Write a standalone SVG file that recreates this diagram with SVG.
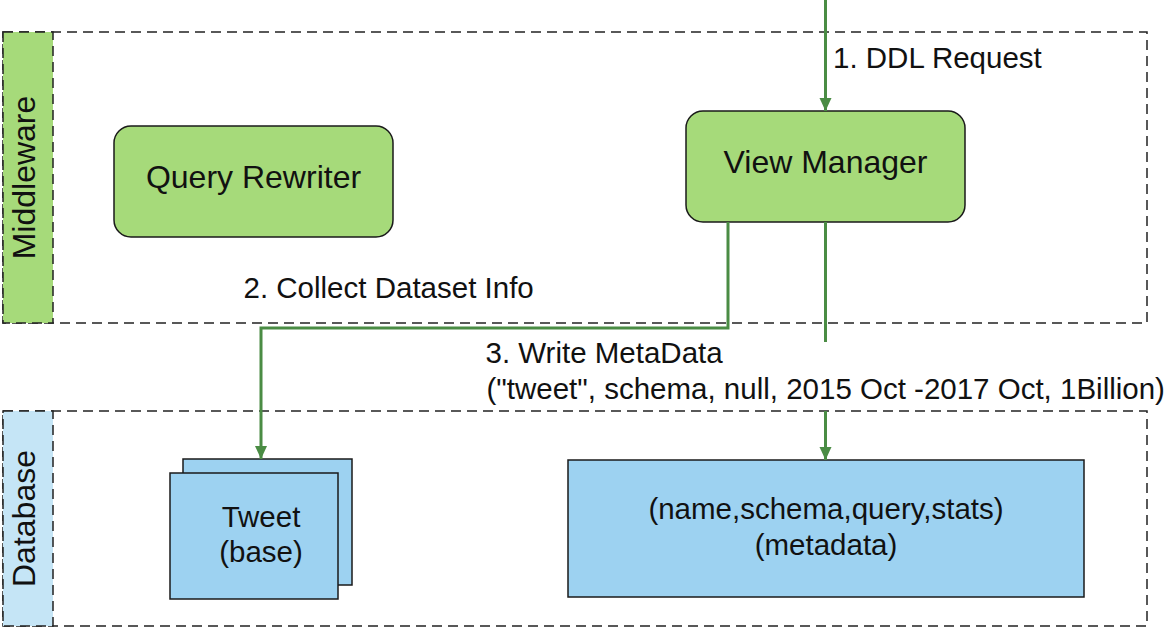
<svg xmlns="http://www.w3.org/2000/svg" width="1167" height="629" viewBox="0 0 1167 629">
  <style>
    .lane { fill: none; stroke: #222222; stroke-width: 1.5; stroke-dasharray: 10 6; }
    .band-mw { fill: #a6da7a; stroke: #222222; stroke-width: 1.5; stroke-dasharray: 10 6; }
    .band-db { fill: #c5e5f6; stroke: #222222; stroke-width: 1.5; stroke-dasharray: 10 6; }
    .proc { fill: #a6da7a; stroke: #1a1a1a; stroke-width: 1.5; }
    .store { fill: #9dd2f1; stroke: #1a1a1a; stroke-width: 1.5; }
    .t { font-family: "Liberation Sans", Arial, sans-serif; fill: #111111; }
    .big { font-size: 32px; }
    .mid { font-size: 29.5px; }
    .flow { fill: none; stroke: #4a8c44; stroke-width: 3; }
  </style>
  <defs>
    <marker id="arrow" viewBox="0 0 13 13" refX="13" refY="6.5" markerWidth="13" markerHeight="13" markerUnits="userSpaceOnUse" orient="auto">
      <path d="M0,0.5 L13,6.5 L0,12.5 Z" fill="#4a8c44"/>
    </marker>
  </defs>

  <!-- Middleware lane -->
  <g id="lane-middleware">
    <rect class="lane" x="3" y="32" width="1144" height="291"/>
    <rect class="band-mw" x="3" y="32" width="50" height="291"/>
    <text class="t big" text-anchor="middle" transform="translate(35,177.5) rotate(-90)">Middleware</text>
  </g>

  <!-- Database lane -->
  <g id="lane-database">
    <rect class="lane" x="3" y="411" width="1144" height="215"/>
    <rect class="band-db" x="3" y="411" width="50" height="215"/>
    <text class="t big" text-anchor="middle" transform="translate(35,518.5) rotate(-90)">Database</text>
  </g>

  <g id="query-rewriter">
    <rect class="proc" x="114" y="126" width="279" height="111" rx="17"/>
    <text class="t big" x="253.5" y="188" text-anchor="middle">Query Rewriter</text>
  </g>

  <g id="view-manager">
    <rect class="proc" x="686" y="111" width="279" height="111" rx="17"/>
    <text class="t big" x="825.5" y="173" text-anchor="middle">View Manager</text>
  </g>

  <g id="tweet-base">
    <rect class="store" x="183" y="459" width="169" height="126"/>
    <rect class="store" x="170" y="473" width="168" height="126"/>
    <text class="t mid" x="261" y="527" text-anchor="middle">Tweet</text>
    <text class="t mid" x="261" y="562" text-anchor="middle">(base)</text>
  </g>

  <g id="metadata">
    <rect class="store" x="568" y="460" width="516" height="137"/>
    <text class="t mid" x="826" y="519" text-anchor="middle">(name,schema,query,stats)</text>
    <text class="t mid" x="826" y="555" text-anchor="middle">(metadata)</text>
  </g>

  <!-- Connectors -->
  <g id="connectors">
    <path class="flow" d="M825.5,0 V111" marker-end="url(#arrow)"/>
    <path class="flow" d="M728,222 V328 H261 V459" marker-end="url(#arrow)"/>
    <path class="flow" d="M825.5,222 V342"/>
    <path class="flow" d="M825.5,411 V460" marker-end="url(#arrow)"/>
  </g>

  <g id="labels">
    <text class="t mid" x="833" y="68">1. DDL Request</text>
    <text class="t mid" x="243.5" y="298">2. Collect Dataset Info</text>
    <text class="t mid" x="485.5" y="363">3. Write MetaData</text>
    <text class="t mid" x="486.5" y="398.5">("tweet", schema, null, 2015 Oct -2017 Oct, 1Billion)</text>
  </g>
</svg>
